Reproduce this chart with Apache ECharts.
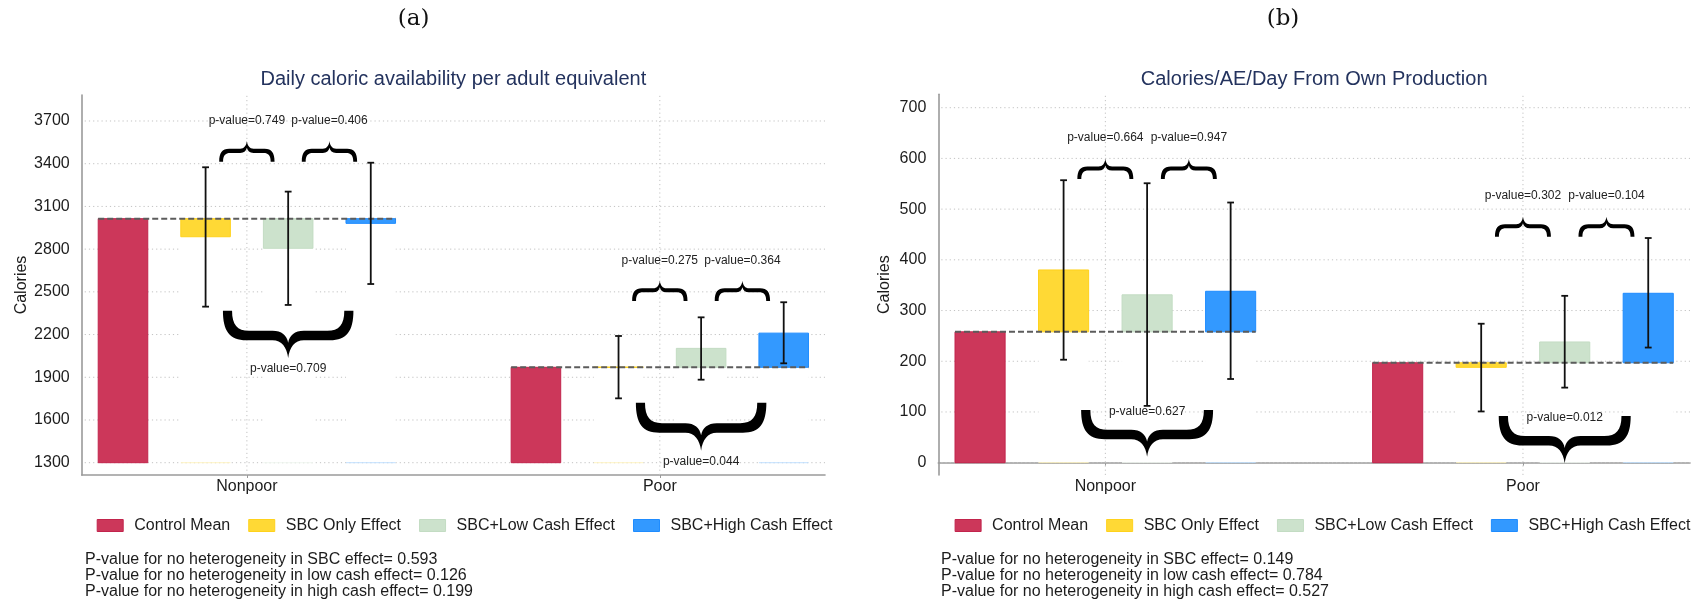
<!DOCTYPE html>
<html>
<head>
<meta charset="utf-8">
<script src="https://cdn.jsdelivr.net/npm/echarts@6/dist/echarts.min.js"></script>
<style>
  html, body { margin: 0; padding: 0; background: #ffffff; }
  #chart { width: 1697px; height: 602px; }
</style>
</head>
<body>
<div id="chart"></div>
<script>
// ---------- data ----------
const groups = ['Nonpoor', 'Poor'];
const seriesNames = ['Control Mean', 'SBC Only Effect', 'SBC+Low Cash Effect', 'SBC+High Cash Effect'];

// (a) Daily caloric availability per adult equivalent
const ticksA = [1300, 1600, 1900, 2200, 2500, 2800, 3100, 3400, 3700];
const controlMeanA = [3014, 1970];
const sbcEffectA = [-127, 1];
const lowCashEffectA = [-208, 133];
const highCashEffectA = [-33, 240];
const sbcCiA = [[2396, 3375], [1752, 2190]];
const lowCashCiA = [[2408, 3204], [1883, 2321]];
const highCashCiA = [[2555, 3407], [1998, 2427]];
const pairPA = [['0.749', '0.406'], ['0.275', '0.364']];
const jointPA = ['0.709', '0.044'];
const heteroPA = ['0.593', '0.126', '0.199'];

// (b) Calories/AE/Day from own production
const ticksB = [0, 100, 200, 300, 400, 500, 600, 700];
const controlMeanB = [258, 197];
const sbcEffectB = [122, -9];
const lowCashEffectB = [73, 41];
const highCashEffectB = [80, 137];
const sbcCiB = [[203, 557], [101, 274]];
const lowCashCiB = [[112, 551], [148, 329]];
const highCashCiB = [[165, 513], [227, 443]];
const pairPB = [['0.664', '0.947'], ['0.302', '0.104']];
const jointPB = ['0.627', '0.012'];
const heteroPB = ['0.149', '0.784', '0.527'];

// ---------- styling & layout ----------
const FONT = "'Liberation Sans', Arial, Helvetica, sans-serif";
const TEXT = '#1c1c1c';
const COLORS = [
  { fill: '#cc375a', border: '#c2244c' },
  { fill: '#ffd935', border: '#ffd21c' },
  { fill: '#cce2cc', border: '#c3dcc3' },
  { fill: '#3399ff', border: '#1f8cff' }
];
const OFFSETS = [-0.3, -0.1, 0.1, 0.3];   // bar positions within a group (axis units)
const BAR_W = 0.12;
const X_MIN = 0.6, X_MAX = 2.4;
const GROUP_X = [1, 2];
const HETERO_LABELS = ['SBC effect', 'low cash effect', 'high cash effect'];

const panels = [
  {
    title: 'Daily caloric availability per adult equivalent', tag: '(a)', tagX: 413.6,
    grid: { left: 81.7, top: 95, width: 743.3, height: 380 },
    yMin: 1213.6, yMax: 3882.6, base: 1300, ticks: ticksA,
    mean: controlMeanA, effects: [sbcEffectA, lowCashEffectA, highCashEffectA],
    cis: [sbcCiA, lowCashCiA, highCashCiA],
    pairP: pairPA, jointP: jointPA, hetero: heteroPA,
    pairBrace: [{ ends: 3414, tip: 3559, label: 3700 }, { ends: 2436, tip: 2578, label: 2717 }],
    jointBrace: [{ x: 1.1, ends: 2367, tip: 2035, label: 1957 }, { x: 2.1, ends: 1721, tip: 1384, label: 1308 }],
    nameGap: 52, legendLeft: 96.7, noteX: 85
  },
  {
    title: 'Calories/AE/Day From Own Production', tag: '(b)', tagX: 1283,
    grid: { left: 938.3, top: 94.3, width: 751.7, height: 380.7 },
    yMin: -24.3, yMax: 726.4, base: 0, ticks: ticksB,
    mean: controlMeanB, effects: [sbcEffectB, lowCashEffectB, highCashEffectB],
    cis: [sbcCiB, lowCashCiB, highCashCiB],
    pairP: pairPB, jointP: jointPB, hetero: heteroPB,
    pairBrace: [{ ends: 559.5, tip: 599, label: 640 }, { ends: 445.7, tip: 485, label: 526.5 }],
    jointBrace: [{ x: 1.1, ends: 104, tip: 11.8, label: 100 }, { x: 2.1, ends: 92, tip: -1.2, label: 88.7 }],
    nameGap: 46, legendLeft: 954.6, noteX: 941
  }
];

// Curly brace outlines in a 100 x 40 box; the underbrace points down, the overbrace up.
const UNDER = [
  [0, 0], 'C', [0, 17], [5, 25], [18, 25], 'L', [38, 25], 'C', [45, 25], [49, 31], [50, 40],
  'C', [51, 31], [55, 25], [62, 25], 'L', [82, 25], 'C', [95, 25], [100, 17], [100, 0],
  'L', [93, 0], 'C', [93, 12], [89, 17], [80, 17], 'L', [62, 17], 'C', [55, 17], [51, 21], [50, 27],
  'C', [49, 21], [45, 17], [38, 17], 'L', [20, 17], 'C', [11, 17], [7, 12], [7, 0]
];
function bracePath(flip) {
  let s = 'M';
  UNDER.forEach(t => {
    if (typeof t === 'string') s += ' ' + t;
    else s += ' ' + t[0] + ' ' + (flip ? 40 - t[1] : t[1]);
  });
  return s + ' Z';
}
const PATH_UNDER = bracePath(false);
const PATH_OVER = bracePath(true);

function rectShape(api, x, y0, y1) {
  const a = api.coord([x - BAR_W / 2, Math.max(y0, y1)]);
  const b = api.coord([x + BAR_W / 2, Math.min(y0, y1)]);
  return { x: a[0], y: a[1], width: b[0] - a[0], height: Math.max(b[1] - a[1], 0.01) };
}

const series = [];
const graphic = [];
const legends = [];
const xAxes = [];
const yAxes = [];
const grids = [];
const GRID_STYLE = { stroke: '#c2c2c2', lineWidth: 1, lineDash: [1.2, 3] };

panels.forEach((P, pi) => {
  grids.push(Object.assign({ containLabel: false }, P.grid));

  xAxes.push({
    type: 'value', gridIndex: pi, min: X_MIN, max: X_MAX,
    axisLine: { show: true, lineStyle: { color: '#9a9a9a', width: 1.6 } },
    axisTick: { show: true, length: 3, customValues: GROUP_X, lineStyle: { color: '#9a9a9a' } },
    axisLabel: {
      customValues: GROUP_X, margin: 4, fontSize: 16, color: TEXT, fontFamily: FONT,
      formatter: v => groups[GROUP_X.indexOf(v)] || ''
    },
    splitLine: { show: false }
  });

  yAxes.push({
    type: 'value', gridIndex: pi, min: P.yMin, max: P.yMax,
    name: 'Calories', nameLocation: 'middle', nameGap: P.nameGap, nameRotate: 90,
    nameTextStyle: { fontSize: 16, color: TEXT, fontFamily: FONT },
    axisLine: { show: true, lineStyle: { color: '#9a9a9a', width: 1.6 } },
    axisTick: { show: false, customValues: P.ticks },
    axisLabel: { customValues: P.ticks, margin: 12, fontSize: 16, color: TEXT, fontFamily: FONT,
      formatter: v => String(v) },
    splitLine: { show: false }
  });

  const common = { type: 'custom', coordinateSystem: 'cartesian2d', xAxisIndex: pi, yAxisIndex: pi, silent: true, animation: false };

  // dotted gridlines at the y ticks and at each group's centre
  const gridData = P.ticks.map(t => [t, 0]).concat(GROUP_X.map(x => [x, 1]));
  series.push(Object.assign({}, common, {
    name: 'gridlines', z: 1, data: gridData,
    renderItem: (params, api) => {
      const v = api.value(0);
      let a, b;
      if (api.value(1) === 0) { a = api.coord([X_MIN, v]); b = api.coord([X_MAX, v]); a[0] += 3; }
      else { a = api.coord([v, P.yMin]); b = api.coord([v, P.yMax]); }
      return { type: 'line', shape: { x1: a[0], y1: a[1], x2: b[0], y2: b[1] }, style: GRID_STYLE };
    }
  }));

  // white columns from the base up to the control mean under each effect bar
  const baseData = [];
  [0, 1].forEach(g => [1, 2, 3].forEach(k => baseData.push([GROUP_X[g] + OFFSETS[k], P.base, P.mean[g], k])));
  series.push(Object.assign({}, common, {
    name: 'base', z: 3, data: baseData,
    renderItem: (params, api) => {
      const x = api.value(0), b = api.value(1), m = api.value(2), k = api.value(3);
      const sh = rectShape(api, x, b, m);
      return { type: 'group', children: [
        { type: 'rect', shape: sh, style: { fill: '#ffffff' } },
        { type: 'line', shape: { x1: sh.x, y1: sh.y + sh.height, x2: sh.x + sh.width, y2: sh.y + sh.height },
          style: { stroke: COLORS[k].fill, opacity: 0.3, lineWidth: 1 } }
      ] };
    }
  }));

  // control mean bars
  series.push(Object.assign({}, common, {
    name: seriesNames[0], z: 4,
    itemStyle: { color: COLORS[0].fill, borderColor: COLORS[0].border, borderWidth: 1 },
    data: [0, 1].map(g => [GROUP_X[g] + OFFSETS[0], P.base, P.mean[g]]),
    renderItem: (params, api) => ({
      type: 'rect', shape: rectShape(api, api.value(0), api.value(1), api.value(2)),
      style: { fill: COLORS[0].fill, stroke: COLORS[0].border, lineWidth: 1 }
    })
  }));

  // treatment effect bars drawn from the control mean
  P.effects.forEach((eff, j) => {
    const k = j + 1;
    series.push(Object.assign({}, common, {
      name: seriesNames[k], z: 4,
      itemStyle: { color: COLORS[k].fill, borderColor: COLORS[k].border, borderWidth: 1 },
      data: [0, 1].map(g => [GROUP_X[g] + OFFSETS[k], P.mean[g], P.mean[g] + eff[g]]),
      renderItem: (params, api) => ({
        type: 'rect', shape: rectShape(api, api.value(0), api.value(1), api.value(2)),
        style: { fill: COLORS[k].fill, stroke: COLORS[k].border, lineWidth: 1 }
      })
    }));
  });

  // dashed control-mean reference line across each group
  series.push(Object.assign({}, common, {
    name: 'meanline', z: 5,
    data: [0, 1].map(g => [GROUP_X[g], P.mean[g]]),
    renderItem: (params, api) => {
      const a = api.coord([api.value(0) - 0.36, api.value(1)]);
      const b = api.coord([api.value(0) + 0.36, api.value(1)]);
      return { type: 'line', shape: { x1: a[0], y1: a[1], x2: b[0], y2: b[1] },
        style: { stroke: '#5c5c5c', lineWidth: 2, lineDash: [6, 3] } };
    }
  }));

  // confidence intervals
  const ciData = [];
  P.cis.forEach((ci, j) => [0, 1].forEach(g => ciData.push([GROUP_X[g] + OFFSETS[j + 1], ci[g][0], ci[g][1]])));
  series.push(Object.assign({}, common, {
    name: 'ci', z: 6, data: ciData,
    renderItem: (params, api) => {
      const x = api.value(0);
      const t = api.coord([x, api.value(2)]), b = api.coord([x, api.value(1)]);
      const c = 3.4, st = { stroke: '#111111', lineWidth: 1.8 };
      return { type: 'group', children: [
        { type: 'line', shape: { x1: t[0], y1: t[1], x2: b[0], y2: b[1] }, style: st },
        { type: 'line', shape: { x1: t[0] - c, y1: t[1], x2: t[0] + c, y2: t[1] }, style: st },
        { type: 'line', shape: { x1: b[0] - c, y1: b[1], x2: b[0] + c, y2: b[1] }, style: st }
      ] };
    }
  }));

  // braces: pairwise (between adjacent arms) and joint (across all three arms)
  const braceData = [];
  const labelData = [];
  const labelText = [];
  [0, 1].forEach(g => {
    const pb = P.pairBrace[g];
    [0, 1].forEach(i => {
      const xc = GROUP_X[g] + (i === 0 ? 0 : 0.2);
      braceData.push([xc, 0.067, pb.ends, pb.tip]);
      labelData.push([xc, pb.label]);
      labelText.push('p-value=' + P.pairP[g][i]);
    });
    const jb = P.jointBrace[g];
    braceData.push([jb.x, 0.158, jb.ends, jb.tip]);
    labelData.push([jb.x, jb.label]);
    labelText.push('p-value=' + P.jointP[g]);
  });
  series.push(Object.assign({}, common, {
    name: 'brace', z: 7, data: braceData,
    renderItem: (params, api) => {
      const xc = api.value(0), hw = api.value(1), ends = api.value(2), tip = api.value(3);
      const a = api.coord([xc - hw, ends]), b = api.coord([xc + hw, tip]);
      return { type: 'path', shape: {
        pathData: tip > ends ? PATH_OVER : PATH_UNDER,
        x: a[0], y: Math.min(a[1], b[1]), width: b[0] - a[0], height: Math.abs(b[1] - a[1]), layout: 'cover'
      }, style: { fill: '#000000' } };
    }
  }));
  series.push(Object.assign({}, common, {
    name: 'plabel', z: 8, data: labelData,
    renderItem: (params, api) => {
      const p = api.coord([api.value(0), api.value(1)]);
      return { type: 'text', x: p[0], y: p[1], style: {
        text: labelText[params.dataIndex], fontSize: 12, fontFamily: FONT, fill: '#222222',
        align: 'center', verticalAlign: 'middle' } };
    }
  }));

  legends.push({
    left: P.legendLeft, top: 517.5, width: 760, padding: 0, orient: 'horizontal',
    itemWidth: 26, itemHeight: 12, itemGap: 18, selectedMode: false,
    textStyle: { fontSize: 16, color: TEXT, fontFamily: FONT, padding: [0, 0, 0, 6] },
    data: seriesNames.map((n, k) => ({ name: n, icon: 'rect',
      itemStyle: { color: COLORS[k].fill, borderColor: COLORS[k].border, borderWidth: 1 } }))
  });

  const cx = P.grid.left + P.grid.width / 2;
  graphic.push({ type: 'text', x: cx, y: 79, style: { text: P.title, fontSize: 20, fontFamily: FONT,
    fill: '#24335e', align: 'center', verticalAlign: 'middle' } });
  graphic.push({ type: 'text', x: P.tagX, y: 19.5, style: { text: P.tag, fontSize: 23,
    fontFamily: "'DejaVu Serif', 'Liberation Serif', serif", fill: '#111111', align: 'center', verticalAlign: 'middle' } });
  P.hetero.forEach((v, i) => {
    graphic.push({ type: 'text', x: P.noteX, y: 559.3 + i * 16, style: {
      text: 'P-value for no heterogeneity in ' + HETERO_LABELS[i] + '= ' + v,
      fontSize: 16, fontFamily: FONT, fill: TEXT, align: 'left', verticalAlign: 'middle' } });
  });
});

const chart = echarts.init(document.getElementById('chart'), null, { renderer: 'canvas' });
chart.setOption({
  animation: false,
  backgroundColor: '#ffffff',
  grid: grids,
  xAxis: xAxes,
  yAxis: yAxes,
  legend: legends,
  graphic: graphic,
  series: series
});
</script>
</body>
</html>
